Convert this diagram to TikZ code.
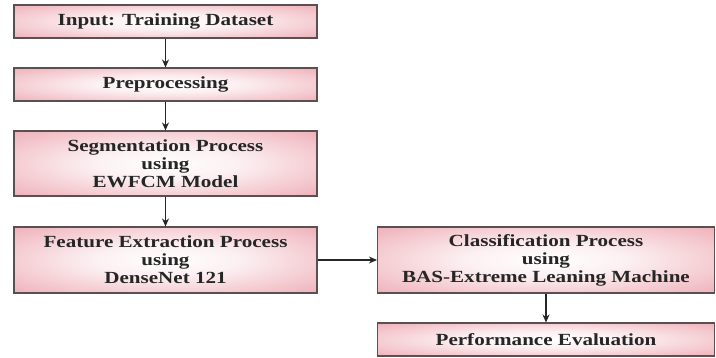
\documentclass[tikz,border=0pt]{standalone}
\usepackage{fontspec}
\setmainfont{Liberation Serif}[FakeStretch=1.24]
\usetikzlibrary{arrows.meta}
\definecolor{pinkc}{RGB}{234,155,166}
\definecolor{edgec}{RGB}{90,80,82}
\pgfdeclareradialshading{pinkglow}{\pgfpoint{0bp}{0bp}}{color(0bp)=(white); color(12bp)=(white!85!pinkc); color(38bp)=(pinkc!85!white); color(52bp)=(pinkc)}
\begin{document}
\begin{tikzpicture}[x=1bp,y=-1bp,
  procbox/.style={draw=edgec, line width=1.1pt, shading=pinkglow, align=center,
    font=\fontsize{17bp}{18bp}\selectfont\bfseries, text=black!85, inner sep=0pt},
  flow/.style={-{Stealth[length=8bp,width=7bp]}, line width=1.1pt, black!85}]
\useasboundingbox (0,0) rectangle (716,357);
\node[procbox, minimum width=303bp, minimum height=33bp] (in) at (165.5,21.5) {Input: Training Dataset};
\node[procbox, minimum width=303bp, minimum height=33bp] (pre) at (165.5,84.5) {Preprocessing};
\node[procbox, minimum width=303bp, minimum height=65bp] (seg) at (165.5,163.5) {Segmentation Process\\using\\EWFCM Model};
\node[procbox, minimum width=303bp, minimum height=66bp] (fe) at (165.5,260) {Feature Extraction Process\\using\\DenseNet 121};
\node[procbox, minimum width=337bp, minimum height=66bp] (cls) at (546,260) {Classification Process\\using\\BAS-Extreme Leaning Machine};
\node[procbox, minimum width=337bp, minimum height=33bp] (pe) at (546,339.5) {Performance Evaluation};
\draw[flow] (in) -- (pre);
\draw[flow] (pre) -- (seg);
\draw[flow] (seg) -- (fe);
\draw[flow] (fe) -- (cls);
\draw[flow] (cls) -- (pe);
\end{tikzpicture}
\end{document}
